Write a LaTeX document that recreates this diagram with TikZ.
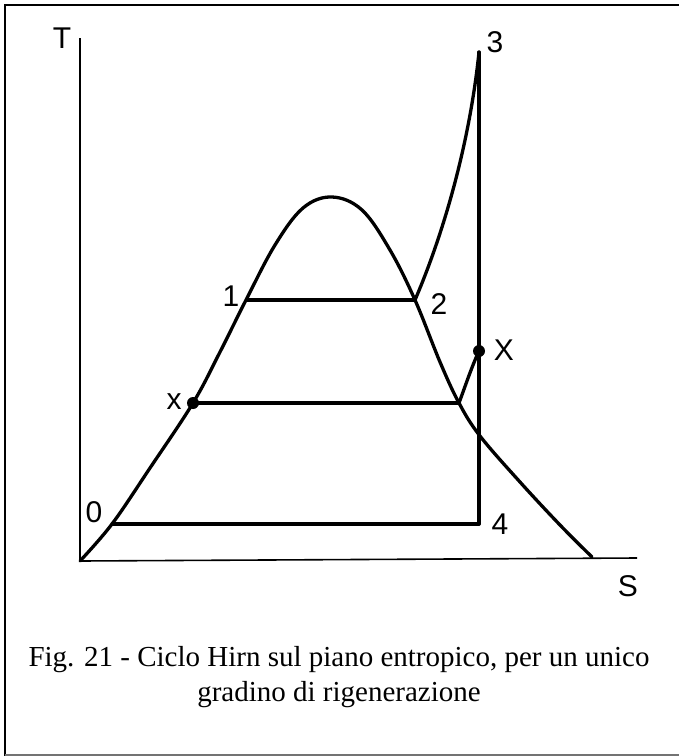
\documentclass[tikz,border=0pt]{standalone}
\usepackage{fontspec}
\setmainfont{Liberation Serif}
\newfontfamily\labfont{Liberation Sans}
\begin{document}
\begin{tikzpicture}[x=1pt,y=-1pt,
  curve/.style={line width=3.3pt,line join=round,line cap=round},
  axis/.style={line width=1.6pt},
  lab/.style={font=\labfont\fontsize{30}{34}\selectfont,inner sep=0pt},
  dot/.style={circle,fill=black,inner sep=0pt,minimum size=12pt}]
\useasboundingbox (0,0) rectangle (679,756);
% frame
\draw[line width=2.2pt] (679,5) -- (5,5) -- (5,756);
\draw[line width=1.5pt,black!55] (5,755) -- (679,755);
% axes
\coordinate (O) at (80,561);
\coordinate (Ttop) at (80,38);
\coordinate (Send) at (637,558);
\draw[axis] (Ttop) -- (O) -- (Send);
\node[lab] (T) at (62,38) {T};
\node[lab] (S) at (628,586) {S};
% points
\coordinate (p0) at (112,524);
\coordinate (px) at (193,403);
\coordinate (p1) at (246,300);
\coordinate (p2) at (415,300);
\coordinate (pb) at (459,403);
\coordinate (p3) at (479,52);
\coordinate (p4) at (479,524);
\coordinate (pX) at (479,351);
% saturation dome
\draw[curve] plot[smooth,tension=0.6] coordinates {(80,561) (112,524) (150,468) (193,403) (220,352) (246,300) (275,245) (303,208) (332,197) (362,210) (390,250) (415,300) (440,362) (459,403) (480,436) (520,482) (560,525) (592,557)};
% superheated line
\draw[curve] (p2) .. controls (445,230) and (470,140) .. (p3);
% expansion 3-4
\draw[curve] (p3) -- (p4);
% condensation 4-0
\draw[curve] (p4) -- (p0);
% 1-2 evaporation
\draw[line width=4pt] (p1) -- (p2);
% regeneration line
\draw[curve] (px) -- (pb);
\draw[curve] (pb) .. controls (466,384) and (472,366) .. (pX);
\node[dot] (dx) at (px) {};
\node[dot] (dX) at (pX) {};
% labels
\node[lab] (l0) at (94,512) {0};
\node[lab] (l1) at (231,296) {1};
\node[lab] (l2) at (439,304) {2};
\node[lab] (l3) at (495,42) {3};
\node[lab] (l4) at (500,524) {4};
\node[lab] (lx) at (174,402) {x};
\node[lab] (lX) at (504,350) {X};
% caption
\node[font=\fontsize{29}{35}\selectfont,align=center,inner sep=0pt] (cap) at (339,677)
  {Fig. 21 - Ciclo Hirn sul piano entropico, per un unico\\gradino di rigenerazione};
\end{tikzpicture}
\end{document}
